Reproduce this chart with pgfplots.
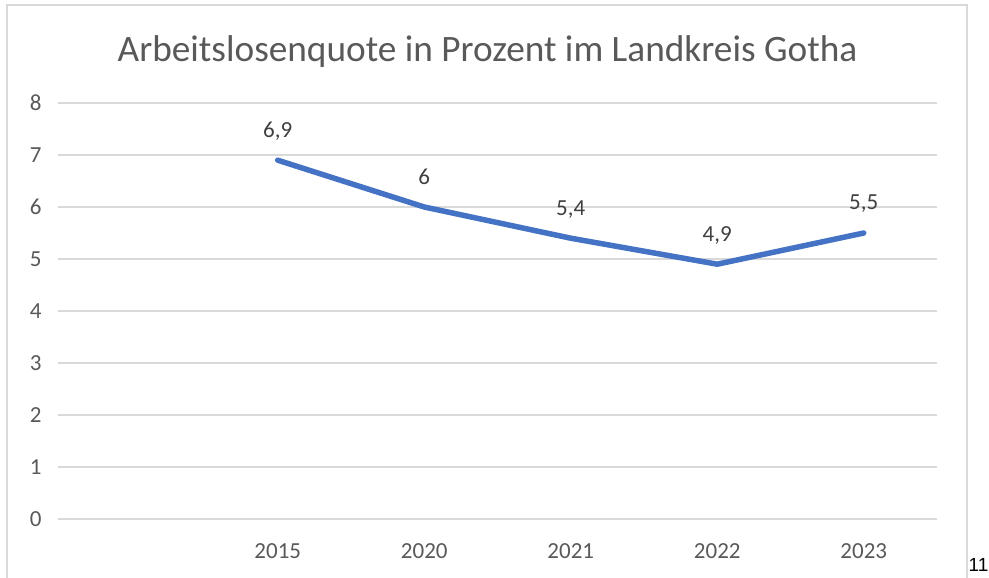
\documentclass[border=0pt]{standalone}
\usepackage{pgfplots}
\pgfplotsset{compat=1.18}
\usepackage{fontspec}
\setmainfont{Carlito}
\newfontfamily\arialfont{Liberation Sans}
\definecolor{linecol}{HTML}{4472C4}
\definecolor{gridcol}{HTML}{D9D9D9}
\definecolor{ticktext}{HTML}{595959}
\definecolor{labeltext}{HTML}{404040}
\begin{document}
\begin{tikzpicture}[x=1pt,y=1pt]
\useasboundingbox (0,0) rectangle (989,578);
\draw[gridcol, line width=1.5pt] (7,-5) -- (7,573) -- (967,573) -- (967,-5);
\node[anchor=base, text=ticktext, inner sep=0pt, font=\fontsize{37.3}{45}\selectfont] at (487.5,516) {Arbeitslosenquote in Prozent im Landkreis Gotha};
\node[anchor=base west, inner sep=0pt, font=\arialfont\fontsize{19}{23}\selectfont] at (968.5,6) {11};
\begin{axis}[
  at={(58pt,59pt)}, anchor=south west,
  scale only axis, width=879pt, height=416pt,
  xmin=-0.5, xmax=5.5, ymin=0, ymax=8,
  xtick={1,2,3,4,5}, xticklabels={2015,2020,2021,2022,2023},
  ytick={0,1,2,3,4,5,6,7,8},
  axis line style={draw=none},
  major tick length=0pt,
  ymajorgrids, grid style={gridcol, line width=1.4pt},
  /pgf/number format/assume math mode=true,
  /pgf/number format/use comma,
  ticklabel style={font=\fontsize{23}{27}\selectfont, text=ticktext},
  xticklabel style={anchor=base, yshift=-39.5pt},
  yticklabel style={anchor=east, xshift=-13pt},
  clip=false,
  nodes near coords,
  every node near coord/.append style={font=\fontsize{23}{27}\selectfont, text=labeltext, anchor=base, yshift=23pt},
]
\addplot[color=linecol, line width=5.5pt, line cap=round, line join=round, mark=none] coordinates {
  (1,6.9) (2,6.0) (3,5.4) (4,4.9) (5,5.5)
};
\end{axis}
\end{tikzpicture}
\end{document}
